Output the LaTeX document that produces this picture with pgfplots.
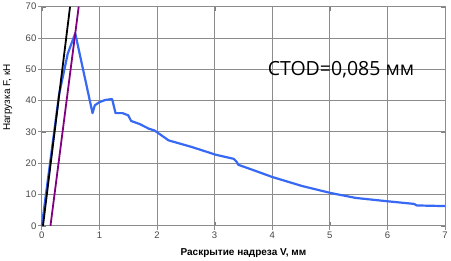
\documentclass[border=0pt]{standalone}
\usepackage{fontspec}
\setmainfont{Liberation Sans}
\newfontfamily\ctodfont{Open Sans}
\usepackage{pgfplots}
\pgfplotsset{compat=1.18}
\definecolor{tickgray}{RGB}{70,70,70}
\definecolor{curveblue}{RGB}{55,105,245}
\definecolor{purp}{RGB}{128,0,128}
\begin{document}
\begin{tikzpicture}
\begin{axis}[
  scale only axis, width=403pt, height=219pt,
  xmin=0, xmax=7, ymin=0, ymax=70,
  xtick={0,1,2,3,4,5,6,7}, ytick={0,10,20,30,40,50,60,70},
  xticklabels={0,1,2,3,4,5,6,7},
  yticklabels={0,10,20,30,40,50,60,70},
  grid=major,
  grid style={black!45, line width=0.8pt},
  axis line style={black!45, line width=0.8pt},
  tick label style={font=\fontsize{9.5}{11}\selectfont, color=tickgray},
  xticklabel style={yshift=-3pt},
  yticklabel style={xshift=-2pt},
  xlabel={\bfseries Раскрытие надреза V, мм},
  ylabel={Нагрузка F, кН},
  xlabel style={font=\fontsize{10}{12}\selectfont, at={(axis description cs:0.5,0)}, anchor=center, yshift=-27pt},
  ylabel style={font=\fontsize{10}{12}\selectfont, at={(axis description cs:0,0.585)}, anchor=center, yshift=34pt},
  clip=false,
]
\pgfplotsinvokeforeach{0,1,2,3,4,5,6,7}{
  \draw[black!45, line width=0.8pt] (axis cs:#1,0) -- (axis cs:#1,70);
  \draw[black!45, line width=0.8pt] (axis cs:#1,0) -- ++(0,-4pt);
}
\pgfplotsinvokeforeach{0,10,20,30,40,50,60,70}{
  \draw[black!45, line width=0.8pt] (axis cs:0,#1) -- (axis cs:7,#1);
  \draw[black!45, line width=0.8pt] (axis cs:0,#1) -- ++(-4pt,0);
}
\addplot[curveblue, line width=2.2pt, line join=round] coordinates {
(0,0) (0.30,42) (0.45,55) (0.58,61.5)
(0.88,36) (0.92,38.5) (1.0,39.5) (1.1,40.2) (1.22,40.5)
(1.28,36) (1.4,36) (1.5,35.3) (1.55,33.5) (1.7,32.5) (1.86,31) (1.95,30.5) (2.0,29.9)
(2.2,27.3) (2.6,25.2) (3.02,22.7) (3.33,21.4) (3.38,20.5) (3.41,19.5) (3.7,17.6) (4.0,15.6)
(4.52,12.7) (5.01,10.5) (5.45,8.9) (6.02,7.8) (6.46,7.0) (6.51,6.5) (7.0,6.3)
};
\addplot[black, line width=1.8pt] coordinates {(0.02,0) (0.49,70)};
\addplot[purp, line width=1.8pt] coordinates {(0.15,0) (0.64,70)};
\node[anchor=base west, font=\ctodfont\fontsize{19.5}{21}\selectfont, inner sep=0pt] at (axis cs:3.92,48.0) {CTOD=0,085 мм};
\end{axis}
\end{tikzpicture}
\end{document}
